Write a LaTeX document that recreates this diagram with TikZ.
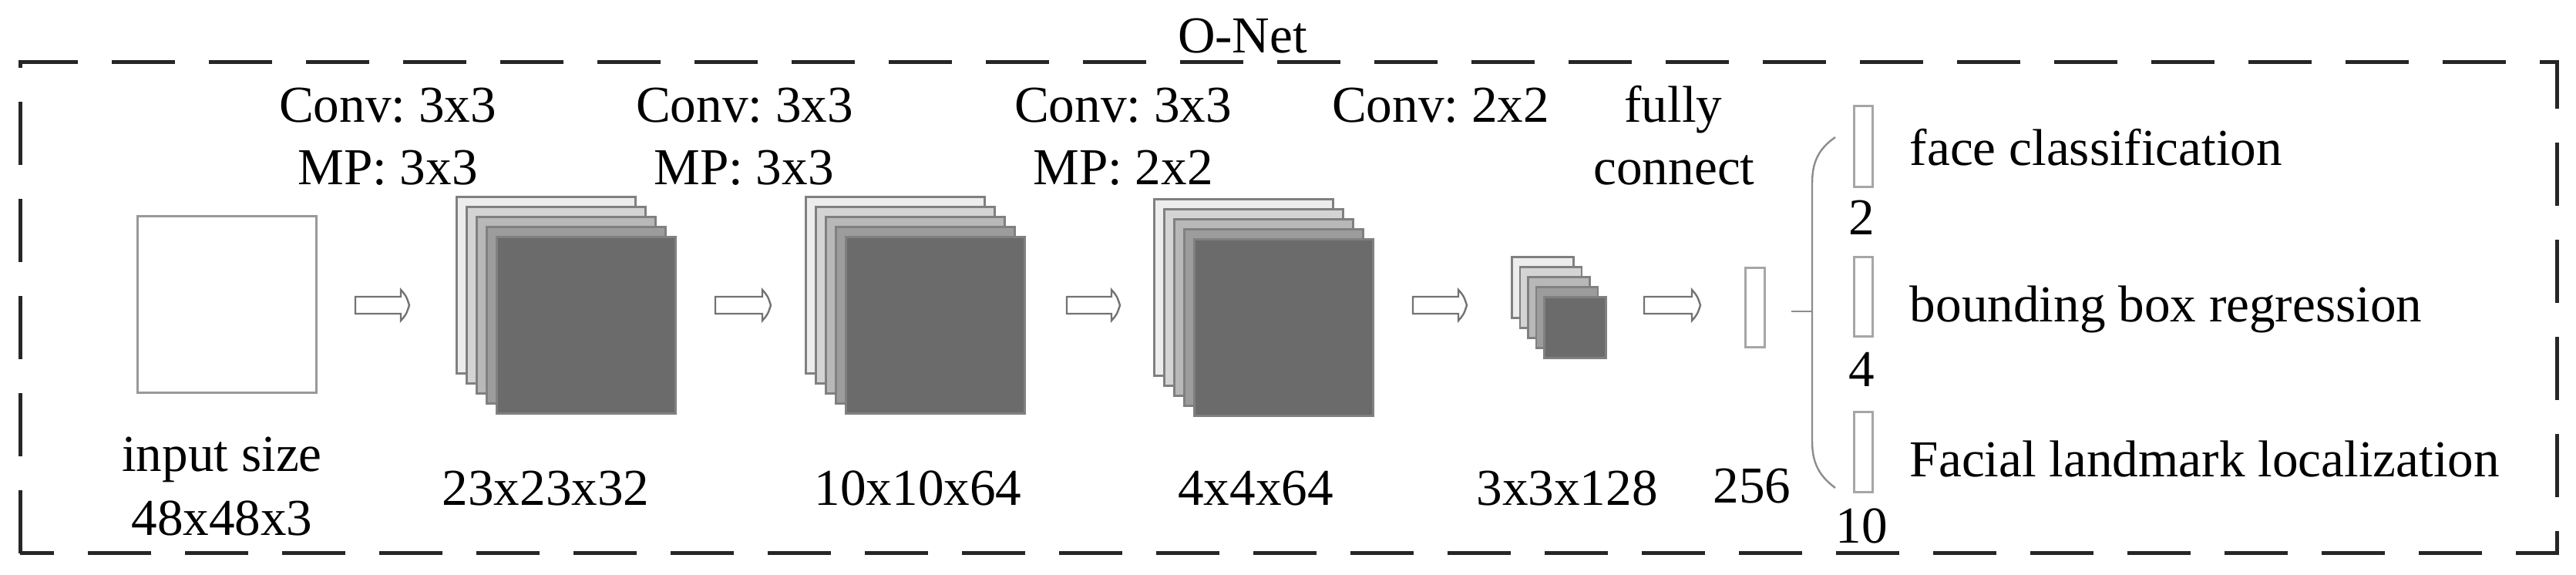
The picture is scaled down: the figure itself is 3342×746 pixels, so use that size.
\documentclass[tikz,border=0pt]{standalone}
\usepackage{fontspec}
\setmainfont{Liberation Serif}
\definecolor{ga}{gray}{0.93}
\definecolor{gb}{gray}{0.83}
\definecolor{gc}{gray}{0.72}
\definecolor{gd}{gray}{0.61}
\definecolor{ge}{gray}{0.42}
\tikzset{
  lbl/.style={font=\fontsize{16.8}{20}\selectfont, inner sep=0pt, anchor=base},
  lblw/.style={font=\fontsize{16.8}{20}\selectfont, inner sep=0pt, anchor=base west},
  border/.style={draw=black!85, line width=1.25pt, dash pattern=on 20.5pt off 11pt},
  sheet/.style={draw=black!50, line width=0.7pt, minimum width=58pt, minimum height=57.25pt, inner sep=0pt, anchor=north west},
  smallsheet/.style={draw=black!50, line width=0.7pt, minimum width=20pt, minimum height=19.75pt, inner sep=0pt, anchor=north west},
  blockarrow/.style={draw=black!55, fill=white, line width=0.6pt},
  vec/.style={draw=black!35, line width=0.75pt, fill=white, inner sep=0pt, anchor=north west},
  bracestyle/.style={draw=black!45, line width=0.6pt},
}
\newcommand\blockarr[2]{%
  \draw[blockarrow] (#1,385) -- (#2-11,385) -- (#2-11,376)
    .. controls (#2-4,384) .. (#2,396)
    .. controls (#2-4,408) .. (#2-11,416) -- (#2-11,407) -- (#1,407) -- cycle;}
\begin{document}
\frenchspacing
\begin{tikzpicture}[x=0.25pt,y=-0.25pt]
\useasboundingbox (0,0) rectangle (3342,746);
% outer dashed frame
\draw[border] (26,718) -- (26,81) -- (3317,81) -- (3317,718) -- cycle;
\node[lbl] (title) at (1612,69) {O-Net};
% input
\node[vec, draw=black!40, minimum width=58pt, minimum height=57.25pt] (inp) at (177,279) {};
\node[lbl] (inpa) at (288,612) {input size};
\node[lbl] (inpb) at (288,695) {48x48x3};
% stacks
\foreach \i/\c in {0/ga,1/gb,2/gc,3/gd,4/ge} {
  \node[sheet, fill=\c] (sa\i) at (591+13*\i, 254+13*\i) {};
}
\foreach \i/\c in {0/ga,1/gb,2/gc,3/gd,4/ge} {
  \node[sheet, fill=\c] (sb\i) at (1044+13*\i, 254+13*\i) {};
}
\foreach \i/\c in {0/ga,1/gb,2/gc,3/gd,4/ge} {
  \node[sheet, fill=\c] (sc\i) at (1496+13*\i, 257+13*\i) {};
}
\foreach \i/\c in {0/ga,1/gb,2/gc,3/gd,4/ge} {
  \node[smallsheet, fill=\c] (sd\i) at (1960+10.5*\i, 332+13*\i) {};
}
% block arrows
\blockarr{461}{531}
\blockarr{928}{1000}
\blockarr{1384}{1453}
\blockarr{1833}{1903}
\blockarr{2133}{2206}
% fc vector
\node[vec, minimum width=6.25pt, minimum height=25.75pt] (fc) at (2263,346) {};
% outputs
\node[vec, minimum width=6pt, minimum height=26.25pt] (o1) at (2404,136) {};
\node[vec, minimum width=6pt, minimum height=25.75pt] (o2) at (2404,332) {};
\node[vec, minimum width=6pt, minimum height=26pt] (o3) at (2404,533) {};
% brace
\coordinate (bs) at (2324,404);
\coordinate (bm) at (2351,404);
\draw[bracestyle] (bs) -- (bm);
\draw[bracestyle] (2381,178) .. controls (2358,194) and (2351,212) .. (2351,238)
  -- (2351,572) .. controls (2351,598) and (2358,616) .. (2381,633);
% labels top
\node[lbl] (c1a) at (503,159) {Conv: 3x3};
\node[lbl] (c1b) at (503,240) {MP: 3x3};
\node[lbl] (c2a) at (966,159) {Conv: 3x3};
\node[lbl] (c2b) at (965,240) {MP: 3x3};
\node[lbl] (c3a) at (1457,159) {Conv: 3x3};
\node[lbl] (c3b) at (1457,240) {MP: 2x2};
\node[lbl] (c4a) at (1869,159) {Conv: 2x2};
\node[lbl] (fca) at (2171,159) {fully};
\node[lbl] (fcb) at (2172,240) {connect};
% labels bottom
\node[lbl] (d1) at (708,656) {23x23x32};
\node[lbl] (d2) at (1191,656) {10x10x64};
\node[lbl] (d3) at (1629,656) {4x4x64};
\node[lbl] (d4) at (2033,656) {3x3x128};
\node[lbl] (d5) at (2273,653) {256};
% output sizes and names
\node[lbl] (n1) at (2415,305) {2};
\node[lbl] (n2) at (2415,502) {4};
\node[lbl] (n3) at (2415,705) {10};
\node[lblw] (t1) at (2477,215) {face classification};
\node[lblw] (t2) at (2477,418) {bounding box regression};
\node[lblw] (t3) at (2477,619) {Facial landmark localization};
\end{tikzpicture}
\end{document}
